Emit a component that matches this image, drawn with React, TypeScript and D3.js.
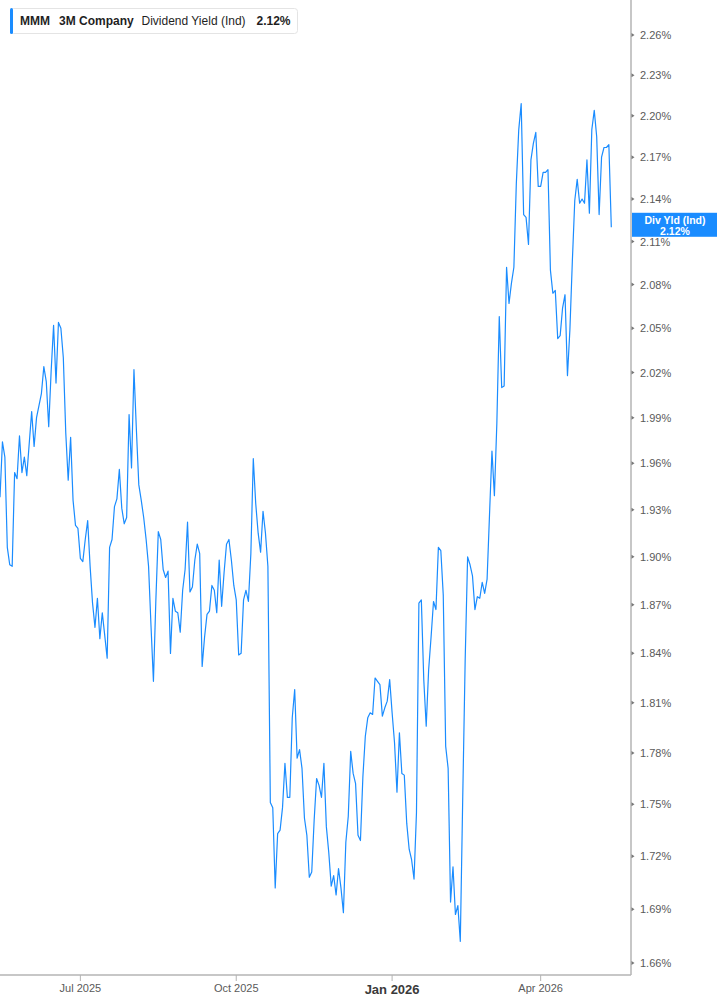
import React from "react";
import * as d3 from "d3";

// Daily dividend yield (%) — one value per trading day, starting 2025-05-13
const yieldValues: number[] = [
  1.938, 1.974, 1.964, 1.906, 1.895, 1.894, 1.954, 1.950, 1.978, 1.954,
  1.964, 1.952, 1.973, 1.994, 1.971, 1.990, 1.998, 2.006, 2.024, 2.014,
  1.984, 2.021, 2.052, 2.013, 2.054, 2.050, 2.030, 1.980, 1.949, 1.977,
  1.936, 1.920, 1.918, 1.899, 1.897, 1.911, 1.923, 1.894, 1.871, 1.856,
  1.874, 1.849, 1.865, 1.851, 1.837, 1.906, 1.911, 1.932, 1.937, 1.956,
  1.931, 1.921, 1.925, 1.992, 1.957, 2.022, 1.982, 1.946, 1.936, 1.925,
  1.911, 1.894, 1.857, 1.823, 1.873, 1.916, 1.911, 1.892, 1.887, 1.891,
  1.840, 1.874, 1.866, 1.865, 1.853, 1.879, 1.892, 1.922, 1.878, 1.881,
  1.898, 1.908, 1.902, 1.832, 1.850, 1.864, 1.866, 1.882, 1.879, 1.865,
  1.898, 1.869, 1.890, 1.908, 1.911, 1.898, 1.882, 1.873, 1.839, 1.840,
  1.873, 1.879, 1.872, 1.902, 1.963, 1.934, 1.915, 1.903, 1.929, 1.915,
  1.894, 1.751, 1.748, 1.702, 1.733, 1.735, 1.748, 1.774, 1.754, 1.754,
  1.801, 1.818, 1.777, 1.782, 1.771, 1.742, 1.732, 1.708, 1.711, 1.741,
  1.765, 1.761, 1.754, 1.774, 1.737, 1.722, 1.703, 1.709, 1.698, 1.713,
  1.702, 1.688, 1.728, 1.743, 1.781, 1.768, 1.762, 1.732, 1.729, 1.766,
  1.790, 1.801, 1.804, 1.803, 1.825, 1.823, 1.821, 1.802, 1.807, 1.811,
  1.824, 1.804, 1.786, 1.757, 1.792, 1.768, 1.767, 1.739, 1.724, 1.718,
  1.707, 1.745, 1.871, 1.873, 1.824, 1.796, 1.830, 1.850, 1.872, 1.867,
  1.906, 1.904, 1.876, 1.784, 1.771, 1.694, 1.714, 1.687, 1.692, 1.672,
  1.754, 1.836, 1.900, 1.895, 1.888, 1.867, 1.875, 1.874, 1.884, 1.877,
  1.886, 1.927, 1.968, 1.939, 1.986, 2.058, 2.010, 2.011, 2.092, 2.067,
  2.081, 2.092, 2.151, 2.190, 2.209, 2.129, 2.127, 2.108, 2.168, 2.180,
  2.188, 2.149, 2.149, 2.159, 2.159, 2.161, 2.090, 2.074, 2.076, 2.043,
  2.045, 2.064, 2.073, 2.018, 2.049, 2.096, 2.139, 2.154, 2.137, 2.140,
  2.137, 2.168, 2.130, 2.190, 2.204, 2.185, 2.129, 2.170, 2.177, 2.177,
  2.179, 2.120,
];

const firstTradingDay = "2025-05-13";
const marketHolidays = [
  "2025-05-26", "2025-06-19", "2025-07-04", "2025-09-01", "2025-11-27",
  "2025-12-25", "2026-01-01", "2026-01-19", "2026-02-16", "2026-04-03",
];

const yTickValues = [
  1.66, 1.69, 1.72, 1.75, 1.78, 1.81, 1.84, 1.87, 1.9, 1.93, 1.96,
  1.99, 2.02, 2.05, 2.08, 2.11, 2.14, 2.17, 2.2, 2.23, 2.26,
];
const xTickLabels = ["Jul 2025", "Oct 2025", "Jan 2026", "Apr 2026"];
const yearStartLabels = ["Jan 2026"];

const tickerSymbol = "MMM";
const companyName = "3M Company";
const metricName = "Dividend Yield (Ind)";
const badgeName = "Div Yld (Ind)";

const BLUE = "#1a8cff";
const FONT = "'Liberation Sans', Arial, sans-serif";

function tradingDays(start: string, n: number): Date[] {
  const out: Date[] = [];
  const d = new Date(start + "T00:00:00Z");
  while (out.length < n) {
    const dow = d.getUTCDay();
    const iso = d.toISOString().slice(0, 10);
    if (dow !== 0 && dow !== 6 && !marketHolidays.includes(iso)) out.push(new Date(d.getTime()));
    d.setUTCDate(d.getUTCDate() + 1);
  }
  return out;
}

export default function App() {
  const W = 717;
  const H = 1005;
  const axisX = 631;
  const axisY = 975;
  const n = yieldValues.length;
  const dates = tradingDays(firstTradingDay, n);

  const x = d3.scaleLinear().domain([0, n - 1]).range([0, 611.3]);
  const y = d3.scaleLog().domain([1.6534, 2.2864]).range([axisY, 0]);

  const line = d3
    .line<number>()
    .x((_, i) => x(i))
    .y((v) => y(v));

  const fmtMonth = d3.utcFormat("%b %Y");
  const xTicks = xTickLabels
    .map((label) => ({ label, idx: dates.findIndex((d) => fmtMonth(d) === label) }))
    .filter((t) => t.idx >= 0);

  const last = yieldValues[n - 1];
  const lastY = y(last);
  const fmtPct = (v: number) => d3.format(".2f")(v) + "%";

  return (
    <svg
      width={W}
      height={H}
      style={{ position: "absolute", left: 0, top: 0, background: "#fff" }}
      fontFamily={FONT}
    >
      {/* axes */}
      <line x1={axisX} x2={axisX} y1={0} y2={axisY} stroke="#b4b4b4" strokeWidth={1.5} />
      <line x1={0} x2={axisX} y1={axisY} y2={axisY} stroke="#b4b4b4" strokeWidth={1.5} />

      {yTickValues.map((v) => {
        const yy = y(v);
        return (
          <g key={v}>
            <path d={`M${axisX + 0.5},${yy - 2} L${axisX + 3.5},${yy} L${axisX + 0.5},${yy + 2} Z`} fill="#777" />
            <text x={640} y={yy + 4} fontSize={11} fill="#5a5a5a">
              {fmtPct(v)}
            </text>
          </g>
        );
      })}

      {xTicks.map((t) => {
        const xx = x(t.idx);
        const bold = yearStartLabels.includes(t.label);
        return (
          <g key={t.label}>
            <line x1={xx} x2={xx} y1={axisY} y2={axisY + 6} stroke="#b4b4b4" strokeWidth={1} />
            <text
              x={xx}
              y={bold ? 993.5 : 992}
              textAnchor="middle"
              fontSize={bold ? 13 : 11}
              fontWeight={bold ? 700 : 400}
              fill={bold ? "#3a3a3a" : "#5a5a5a"}
            >
              {t.label}
            </text>
          </g>
        );
      })}

      {/* series */}
      <path d={line(yieldValues) || ""} fill="none" stroke={BLUE} strokeWidth={1.2} strokeLinejoin="round" />

      {/* last value badge */}
      <rect x={axisX + 1} y={lastY - 14.5} width={W - axisX - 1} height={24} fill={BLUE} />
      <text x={675} y={lastY - 3.5} textAnchor="middle" fontSize={10.5} fontWeight={700} fill="#fff">
        {badgeName}
      </text>
      <text x={675} y={lastY + 7.5} textAnchor="middle" fontSize={10.5} fontWeight={700} fill="#fff">
        {fmtPct(last)}
      </text>

      {/* legend */}
      <rect x={10.5} y={8.5} width={287} height={25} rx={3} fill="#fff" stroke="#e4e4e4" />
      <rect x={10} y={8} width={3} height={26} rx={1.5} fill={BLUE} />
      <text x={20} y={25} fontSize={12} fontWeight={700} fill="#1f1f1f">
        {tickerSymbol}
      </text>
      <text x={59} y={25} fontSize={12} fontWeight={700} fill="#1f1f1f">
        {companyName}
      </text>
      <text x={141.5} y={25} fontSize={12} fill="#1f1f1f">
        {metricName}
      </text>
      <text x={256.5} y={25} fontSize={12} fontWeight={700} fill="#1f1f1f">
        {fmtPct(last)}
      </text>
    </svg>
  );
}
